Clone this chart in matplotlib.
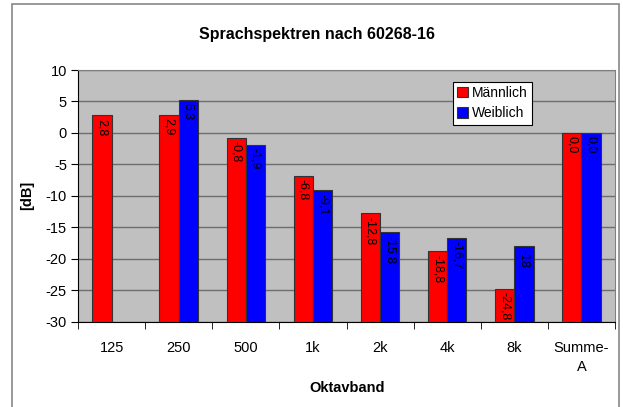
import matplotlib
matplotlib.use("Agg")
import matplotlib.pyplot as plt
from matplotlib.patches import Rectangle
import numpy as np

plt.rcParams['font.family'] = ['Liberation Sans', 'DejaVu Sans']

categories = ["125", "250", "500", "1k", "2k", "4k", "8k", "Summe-\nA"]
maennlich = [2.8, 2.9, -0.8, -6.8, -12.8, -18.8, -24.8, 0.0]
weiblich = [None, 5.3, -1.9, -9.1, -15.8, -16.7, -18.0, 0.0]
labels_m = ["2,8", "2,9", "-0,8", "-6,8", "-12,8", "-18,8", "-24,8", "0,0"]
labels_w = [None, "5,3", "-1,9", "-9,1", "-15,8", "-16,7", "-18", "0,0"]
yticks = [10, 5, 0, -5, -10, -15, -20, -25, -30]

W, H = 623, 407
fig = plt.figure(figsize=(W / 100, H / 100), dpi=100)
ax = fig.add_axes([78 / W, 1 - 321.5 / H, (615 - 78) / W, (321.5 - 70) / H])

# outer chart border
fig.patches.append(Rectangle((12 / W, -0.01), (619 - 12) / W, (H - 4) / H + 0.01,
                             transform=fig.transFigure, fill=False,
                             edgecolor='#888888', linewidth=1.2))

ax.set_facecolor('#C0C0C0')
base = -30
w = 0.286
x = np.arange(len(categories))

for i in range(len(categories)):
    vm = maennlich[i]
    ax.bar(x[i] - w / 2, vm - base, bottom=base, width=w, color='#FF0000',
           edgecolor='#333333', linewidth=0.8, zorder=3,
           label='Männlich' if i == 0 else None)
    ax.annotate(labels_m[i], (x[i] - w / 2, vm), xytext=(0, -2.5),
                textcoords='offset points', rotation=270, ha='center', va='top',
                fontsize=9, zorder=4)
    vw = weiblich[i]
    if vw is not None:
        ax.bar(x[i] + w / 2, vw - base, bottom=base, width=w, color='#0000FF',
               edgecolor='#333333', linewidth=0.8, zorder=3,
               label='Weiblich' if i == 1 else None)
        ax.annotate(labels_w[i], (x[i] + w / 2, vw), xytext=(0, -2.5),
                    textcoords='offset points', rotation=270, ha='center', va='top',
                    fontsize=9, zorder=4)

ax.set_xlim(-0.5, len(categories) - 0.5)
ax.set_ylim(-30, 10)
ax.set_yticks(yticks)
ax.set_yticklabels([str(t) for t in yticks], fontsize=10.5)
ax.yaxis.grid(True, color='#6E6E6E', linewidth=1.0, zorder=1)
ax.set_axisbelow(True)

ax.set_xticks(x)
ax.set_xticklabels(categories, fontsize=10.5, linespacing=1.45)
ax.set_xticks(np.arange(-0.5, len(categories) + 0.5, 1), minor=True)
ax.tick_params(axis='x', which='major', length=0, pad=14)
ax.tick_params(axis='x', which='minor', length=5, direction='out', color='black')
ax.tick_params(axis='y', length=5, direction='out', color='black', pad=3)

for s in ['top', 'right']:
    ax.spines[s].set_color('#808080')
for s in ['left', 'bottom']:
    ax.spines[s].set_color('black')

ax.set_ylabel('[dB]', fontsize=10.5, fontweight='bold', labelpad=8)
fig.text(347 / W, 1 - 388 / H, 'Oktavband', ha='center', va='center',
         fontsize=10.5, fontweight='bold')
fig.text(317 / W, 1 - 34 / H, 'Sprachspektren nach 60268-16', ha='center', va='center',
         fontsize=11.5, fontweight='bold')

leg = ax.legend(loc='upper left', bbox_to_anchor=((453 - 78) / (615 - 78), 1 - (82 - 70) / 251.5),
                fontsize=10, frameon=True, fancybox=False, edgecolor='black',
                framealpha=1, borderpad=0.3, labelspacing=0.45, handlelength=0.75,
                handleheight=0.75, handletextpad=0.3, borderaxespad=0)
leg.get_frame().set_linewidth(0.8)

fig.savefig('out.png', dpi=100, facecolor='white')
